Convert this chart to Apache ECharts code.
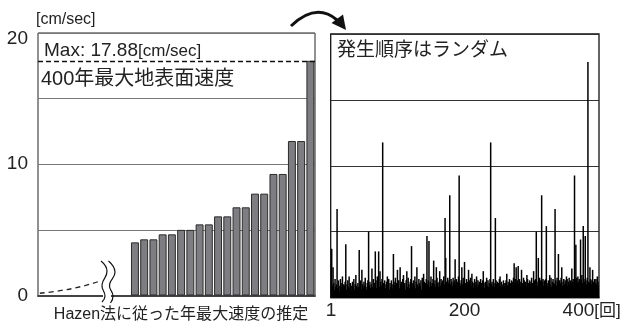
<!DOCTYPE html>
<html>
<head>
<meta charset="utf-8">
<script src="https://cdn.jsdelivr.net/npm/echarts@6/dist/echarts.min.js"></script>
<style>
html, body { margin: 0; padding: 0; background: #fff; }
#chart { width: 622px; height: 322px; }
</style>
</head>
<body>
<div id="chart"></div>
<script>
// Left panel: annual maximum velocity estimated by the Hazen method (ascending order).
// The first ten slots stay empty; a dashed schematic tail is drawn there instead.
const rankSlots = [1, 2, 3, 4, 5, 6, 7, 8, 9, 10, 11, 12, 13, 14, 15,
                   16, 17, 18, 19, 20, 21, 22, 23, 24, 25, 26, 27, 28, 29, 30];
const emptySlots = 10;
const hazenValues = [4.05, 4.28, 4.28, 4.66, 4.66, 5.0, 5.0, 5.42, 5.42, 6.03,
                     6.03, 6.72, 6.72, 7.76, 7.76, 9.26, 9.26, 11.77, 11.77, 17.88];
// Schematic lower tail (x in slot units, y in cm/sec)
const tailCurve = [[0.2, 0.17], [2.4, 0.37], [4.6, 0.67], [6.5, 1.05]];
const velocityTicks = [0, 10, 20];

// Right panel: maximum surface velocity of each of the 400 events, in order of occurrence
const eventValues = [
  1.2, 3.7, 0.9, 2.3, 1.1, 0.6, 1.4, 0.8, 1.0, 6.72, 0.7, 1.3, 0.9, 0.5, 1.4, 1.1, 0.8, 1.6, 0.7, 1.0,
  0.9, 1.2, 4.05, 0.6, 1.0, 1.3, 0.8, 1.6, 0.7, 1.1, 0.5, 0.9, 1.2, 0.8, 1.4, 0.6, 1.0, 1.7, 0.9, 0.7,
  1.1, 0.8, 3.6, 0.9, 1.3, 0.6, 2.1, 1.0, 0.7, 1.2, 0.9, 1.5, 0.8, 0.6, 1.1, 1.3, 5.0, 0.9, 1.2, 0.7,
  1.0, 2.2, 0.8, 1.4, 0.9, 1.1, 3.5, 1.3, 0.7, 1.6, 1.0, 3.5, 0.8, 2.0, 1.2, 0.9, 1.4, 11.77, 1.1, 0.8,
  1.3, 0.7, 1.0, 1.2, 1.6, 0.9, 1.4, 0.6, 1.1, 0.8, 1.3, 1.0, 0.7, 3.3, 1.2, 0.9, 1.5, 0.8, 1.1, 2.1,
  0.9, 1.3, 0.7, 2.3, 1.0, 1.2, 0.8, 1.4, 1.7, 0.9, 1.1, 0.6, 1.3, 2.0, 0.8, 1.5, 1.0, 0.7, 1.2, 1.4,
  3.9, 0.8, 1.1, 1.3, 0.9, 1.6, 0.7, 1.2, 2.3, 1.0, 0.8, 1.4, 1.1, 0.9, 1.3, 0.6, 1.5, 1.0, 1.8, 1.2,
  0.9, 1.1, 1.4, 4.66, 1.0, 1.3, 4.28, 0.8, 1.2, 1.6, 0.9, 1.1, 1.4, 2.8, 1.0, 1.3, 0.8, 2.3, 1.5, 1.1,
  0.8, 1.2, 2.0, 0.9, 1.4, 1.1, 1.3, 0.7, 1.6, 1.0, 6.03, 3.0, 1.2, 0.9, 1.5, 1.1, 1.3, 7.76, 1.0, 1.4,
  1.2, 0.9, 1.5, 1.1, 1.3, 2.9, 1.0, 1.4, 0.8, 1.2, 1.6, 9.26, 1.1, 0.9, 1.3, 2.3, 1.0, 1.5, 1.2, 2.7,
  1.1, 0.9, 1.4, 1.2, 0.8, 2.1, 1.3, 1.0, 1.5, 0.9, 1.8, 1.2, 0.7, 1.1, 1.4, 0.9, 1.2, 1.6, 0.8, 1.3,
  1.0, 1.2, 0.8, 1.4, 1.1, 0.9, 1.3, 2.0, 1.1, 0.7, 1.2, 1.0, 1.5, 0.9, 1.3, 0.8, 1.1, 1.4, 11.77, 1.0,
  1.2, 0.9, 1.4, 1.1, 0.8, 6.03, 1.3, 1.0, 1.2, 0.7, 1.1, 1.4, 1.6, 0.9, 1.2, 1.0, 0.8, 1.3, 1.1, 0.9,
  1.1, 1.3, 1.8, 0.9, 1.2, 1.0, 1.4, 0.8, 1.1, 1.3, 0.9, 1.2, 1.5, 2.6, 1.0, 1.4, 2.3, 1.1, 1.3, 2.4,
  1.0, 1.4, 0.9, 1.2, 2.1, 1.1, 0.8, 1.5, 1.3, 1.0, 1.2, 0.9, 1.7, 1.4, 1.1, 0.8, 1.3, 1.0, 1.2, 1.5,
  1.1, 0.9, 2.0, 1.3, 1.0, 1.4, 5.0, 1.2, 0.9, 3.0, 1.1, 1.5, 1.3, 1.0, 7.76, 1.2, 1.4, 0.9, 1.3, 1.1,
  1.4, 5.42, 1.1, 0.9, 1.3, 1.2, 1.7, 1.0, 1.5, 0.8, 1.2, 1.4, 1.1, 1.0, 6.72, 1.3, 0.9, 1.5, 1.2, 3.3,
  1.0, 1.3, 1.1, 1.5, 2.3, 0.9, 1.2, 1.4, 1.0, 1.3, 1.1, 1.6, 1.4, 0.9, 1.2, 1.5, 1.0, 1.3, 1.1, 2.2,
  1.2, 1.4, 1.0, 9.26, 1.3, 4.0, 1.5, 1.1, 1.6, 1.2, 1.4, 1.0, 4.4, 1.3, 1.7, 1.1, 5.42, 1.4, 1.2, 4.66,
  1.3, 1.0, 1.5, 17.88, 1.2, 1.1, 2.3, 1.4, 1.0, 1.3, 2.1, 1.2, 0.9, 1.4, 1.1, 1.4, 1.0, 1.6, 1.2, 0.9
];
const eventTicks = [1, 200, 400];
const eventNumbers = eventValues.map((_, k) => k + 1);

const FONT = "'Liberation Sans', 'Noto Sans CJK JP', sans-serif";
const INK = '#222';
const maxVelocity = Math.max(...hazenValues);

const chart = echarts.init(document.getElementById('chart'), null, { renderer: 'canvas' });

chart.setOption({
  animation: false,
  backgroundColor: '#fff',
  textStyle: { fontFamily: FONT },
  grid: [
    { left: 38, right: 307, top: 33, bottom: 26.5, show: true, borderColor: '#222', borderWidth: 1,
      containLabel: false, outerBoundsMode: 'none' },
    { left: 330.7, right: 23, top: 34, bottom: 24.5, show: true, borderColor: '#111', borderWidth: 1.3,
      containLabel: false, outerBoundsMode: 'none' }
  ],
  xAxis: [
    {
      type: 'category', gridIndex: 0, data: rankSlots, boundaryGap: true,
      axisTick: { show: false }, axisLabel: { show: false },
      axisLine: { lineStyle: { color: '#444', width: 2 } },
      name: 'Hazen法に従った年最大速度の推定', nameLocation: 'middle', nameGap: 11,
      nameTextStyle: { fontSize: 16, color: INK, fontFamily: FONT, padding: [0, 0, 0, 9] }
    },
    { type: 'value', gridIndex: 0, min: 0, max: 30, show: false },
    {
      type: 'category', gridIndex: 1, data: eventNumbers, boundaryGap: true,
      axisTick: { show: false },
      axisLine: { lineStyle: { color: '#111', width: 1.3 } },
      axisLabel: {
        interval: (i, v) => eventTicks.includes(Number(v)),
        margin: 4, fontSize: 19, color: INK, fontFamily: FONT,
        formatter: v => Number(v) === eventTicks[eventTicks.length - 1] ? '{n|' + v + '}{u|[回]}' : String(v),
        rich: {
          n: { fontSize: 19, color: INK, fontFamily: FONT },
          u: { fontSize: 17, color: INK, fontFamily: FONT, padding: [0, 14, 0, 0] }
        }
      }
    }
  ],
  yAxis: [
    {
      type: 'value', gridIndex: 0, min: 0, max: 20, interval: 5,
      axisLine: { show: false }, axisTick: { show: false },
      splitLine: { lineStyle: { color: '#777', width: 1 } },
      axisLabel: {
        fontSize: 19, color: INK, fontFamily: FONT, margin: 10,
        formatter: v => velocityTicks.includes(v) ? (v === 20 ? '{top|20}' : String(v)) : '',
        rich: { top: { fontSize: 19, color: INK, fontFamily: FONT, padding: [12, 0, 0, 0] } }
      }
    },
    {
      type: 'value', gridIndex: 1, min: 0, max: 20, interval: 5,
      axisLine: { show: false }, axisTick: { show: false }, axisLabel: { show: false },
      splitLine: { lineStyle: { color: '#333', width: 1.2 } }
    }
  ],
  series: [
    {
      type: 'bar', xAxisIndex: 0, yAxisIndex: 0,
      data: new Array(emptySlots).fill('-').concat(hazenValues),
      barCategoryGap: '14%',
      itemStyle: { color: '#7e7e82', borderColor: '#2b2b2b', borderWidth: 1 },
      markLine: {
        silent: true, symbol: ['none', 'none'], label: { show: false },
        lineStyle: { type: [5, 3], color: '#111', width: 1.3 },
        data: [{ yAxis: maxVelocity }]
      }
    },
    {
      type: 'line', xAxisIndex: 1, yAxisIndex: 0, data: tailCurve,
      smooth: true, symbol: 'none',
      lineStyle: { type: [5, 4], color: '#222', width: 1.3 }
    },
    {
      type: 'bar', xAxisIndex: 2, yAxisIndex: 1, data: eventValues,
      barWidth: 1.5, itemStyle: { color: '#000' }
    }
  ],
  graphic: [
    { type: 'text', x: 36, y: 20, style: { text: '[cm/sec]', fill: INK, font: '16px ' + FONT, verticalAlign: 'middle' } },
    {
      type: 'text', x: 44, y: 51,
      style: {
        text: '{m|Max: ' + maxVelocity + '}{u|[cm/sec]}', verticalAlign: 'middle',
        rich: {
          m: { fontSize: 19, fill: INK, fontFamily: FONT },
          u: { fontSize: 17, fill: INK, fontFamily: FONT }
        }
      }
    },
    { type: 'text', x: 41, y: 79, style: { text: '400年最大地表面速度', fill: INK, font: '20px ' + FONT, verticalAlign: 'middle' } },
    { type: 'text', x: 337, y: 51, style: { text: '発生順序はランダム', fill: INK, font: '19px ' + FONT, verticalAlign: 'middle' } },
    // curved arrow between the panels
    {
      type: 'bezierCurve', z: 10,
      shape: { x1: 291, y1: 26, x2: 337, y2: 20, cpx1: 316, cpy1: 2 },
      style: { stroke: '#111', lineWidth: 3, fill: null }
    },
    { type: 'polygon', z: 10, shape: { points: [[346, 30], [331.5, 23], [343, 14.5]] }, style: { fill: '#111' } },
    // axis break marks
    { type: 'rect', z: 10, shape: { x: 103, y: 292, width: 8, height: 8 }, style: { fill: '#fff' } },
    {
      type: 'polyline', z: 11,
      shape: { points: [[101, 261], [107, 271], [102, 285], [105, 296], [102, 302]], smooth: 0.5 },
      style: { stroke: '#111', lineWidth: 1.2, fill: null }
    },
    {
      type: 'polyline', z: 11,
      shape: { points: [[108.5, 261], [115, 272], [109.5, 285], [113, 296], [110.5, 303]], smooth: 0.5 },
      style: { stroke: '#111', lineWidth: 1.2, fill: null }
    }
  ]
});
</script>
</body>
</html>
